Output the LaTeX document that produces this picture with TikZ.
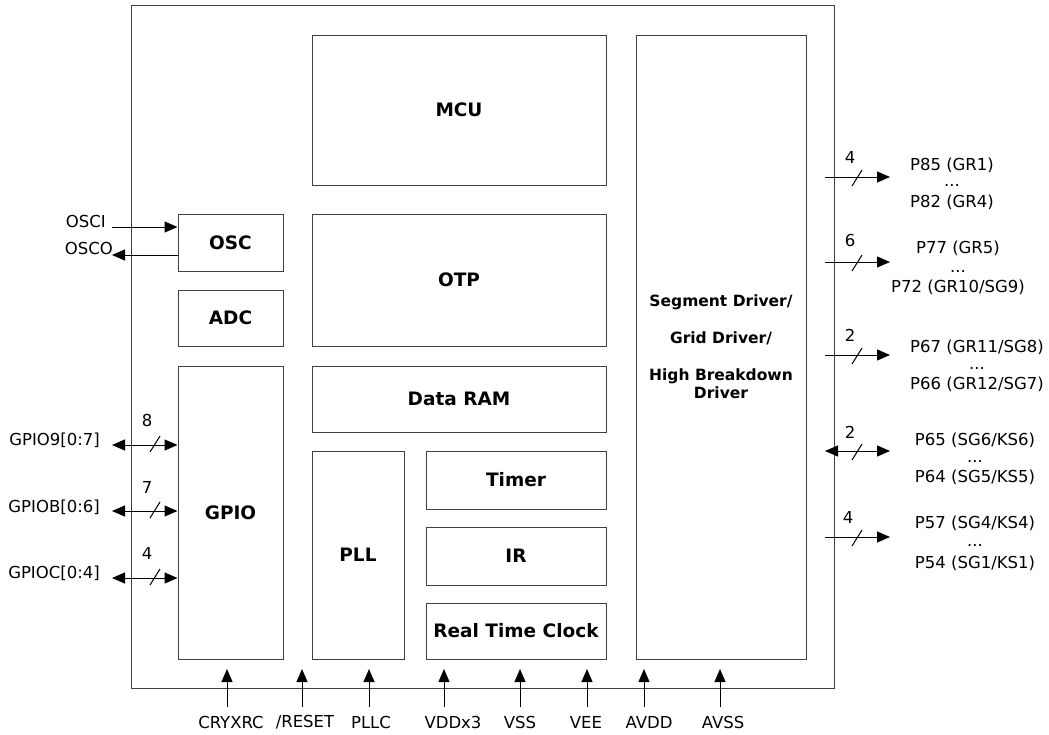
\documentclass[tikz,border=0pt]{standalone}
\usepackage{fontspec}
\setmainfont{DejaVu Sans}
\usetikzlibrary{arrows.meta}
\begin{document}
\begin{tikzpicture}[x=1pt,y=-1pt,
  blk/.style={draw=black!75, line width=1pt, inner sep=0pt, align=center,
    font=\bfseries\fontsize{18.5}{22}\selectfont},
  lbl/.style={inner sep=0pt, font=\fontsize{16.5}{19}\selectfont},
  sig/.style={draw=black, line width=1pt, -{Triangle[length=13pt,width=11pt]}},
  bisig/.style={draw=black, line width=1pt,
    {Triangle[length=13pt,width=11pt]}-{Triangle[length=13pt,width=11pt]}},
  bus/.style={draw=black, line width=1pt}]
\useasboundingbox (0,0) rectangle (1049,734);
% chip outline and blocks
\node[blk, minimum width=703pt, minimum height=682.5pt] (chip) at (482.5,346.75) {};
\node[blk, minimum width=294pt, minimum height=150pt] (mcu) at (459,110) {MCU};
\node[blk, minimum width=294pt, minimum height=132pt] (otp) at (459,280) {OTP};
\node[blk, minimum width=294pt, minimum height=66pt] (ram) at (459,399) {Data RAM};
\node[blk, minimum width=92pt, minimum height=208pt] (pll) at (358,555) {PLL};
\node[blk, minimum width=180pt, minimum height=58pt] (timer) at (516,480) {Timer};
\node[blk, minimum width=180pt, minimum height=58pt] (ir) at (516,556) {IR};
\node[blk, minimum width=180pt, minimum height=56pt] (rtc) at (516,631) {Real Time Clock};
\node[blk, minimum width=105pt, minimum height=57pt] (osc) at (230.5,242.5) {OSC};
\node[blk, minimum width=105pt, minimum height=56pt] (adc) at (230.5,318) {ADC};
\node[blk, minimum width=105pt, minimum height=293pt] (gpio) at (230.5,512.5) {GPIO};
\node[blk, minimum width=170pt, minimum height=624pt,
  font=\bfseries\fontsize{15.5}{18}\selectfont] (seg) at (721,347)
  {Segment Driver/\\[19pt]Grid Driver/\\[19pt]High Breakdown\\Driver};
% oscillator
\coordinate (osciL) at (112,227);
\coordinate (oscoL) at (112,255);
\draw[sig] (osciL) -- (osciL -| osc.west);
\draw[sig] (oscoL -| osc.west) -- (oscoL);
\node[lbl, anchor=east] (tosci) at (106,221) {OSCI};
\node[lbl, anchor=east] (tosco) at (113,248) {OSCO};
% GPIO buses
\coordinate (g9) at (112,445);
\coordinate (gb) at (112,511);
\coordinate (gc) at (112,578);
\draw[bisig] (g9) -- (g9 -| gpio.west);
\draw[bisig] (gb) -- (gb -| gpio.west);
\draw[bisig] (gc) -- (gc -| gpio.west);
\draw[bus] (150,452) -- (160,436);
\draw[bus] (150,518) -- (160,502);
\draw[bus] (150,585) -- (160,569);
\node[lbl] (n8) at (147,420) {8};
\node[lbl] (n7) at (147,487) {7};
\node[lbl] (n4a) at (147,553) {4};
\node[lbl, anchor=east] (tg9) at (100,440) {GPIO9[0:7]};
\node[lbl, anchor=east] (tgb) at (100,507) {GPIOB[0:6]};
\node[lbl, anchor=east] (tgc) at (100,573) {GPIOC[0:4]};
% right side outputs
\coordinate (r1a) at (825,177); \coordinate (r1b) at (890,177);
\coordinate (r2a) at (825,262); \coordinate (r2b) at (890,262);
\coordinate (r3a) at (825,355); \coordinate (r3b) at (890,355);
\coordinate (r4a) at (825,451); \coordinate (r4b) at (890,451);
\coordinate (r5a) at (825,537); \coordinate (r5b) at (890,537);
\draw[sig] (r1a) -- (r1b);
\draw[sig] (r2a) -- (r2b);
\draw[sig] (r3a) -- (r3b);
\draw[bisig] (r4a) -- (r4b);
\draw[sig] (r5a) -- (r5b);
\draw[bus] (852,186) -- (862,170);
\draw[bus] (852,271) -- (862,255);
\draw[bus] (852,364) -- (862,348);
\draw[bus] (852,460) -- (862,444);
\draw[bus] (852,546) -- (862,530);
\node[lbl] (m1) at (850,157) {4};
\node[lbl] (m2) at (850,240) {6};
\node[lbl] (m3) at (850,335) {2};
\node[lbl] (m4) at (850,432) {2};
\node[lbl] (m5) at (848,517) {4};
\node[lbl] (p85) at (952,165) {P85 (GR1)};
\node[lbl] (d1) at (952,185) {...};
\node[lbl] (p82) at (952,202) {P82 (GR4)};
\node[lbl] (p77) at (958,248) {P77 (GR5)};
\node[lbl] (d2) at (958,271) {...};
\node[lbl] (p72) at (958,287) {P72 (GR10/SG9)};
\node[lbl] (p67) at (977,347) {P67 (GR11/SG8)};
\node[lbl] (d3) at (977,368) {...};
\node[lbl] (p66) at (977,384) {P66 (GR12/SG7)};
\node[lbl] (p65) at (975,440) {P65 (SG6/KS6)};
\node[lbl] (d4) at (975,461) {...};
\node[lbl] (p64) at (975,477) {P64 (SG5/KS5)};
\node[lbl] (p57) at (975,523) {P57 (SG4/KS4)};
\node[lbl] (d5) at (975,545) {...};
\node[lbl] (p54) at (975,563) {P54 (SG1/KS1)};
% bottom pins
\foreach \x/\lx/\t/\n in {227/231/CRYXRC/b1, 302/305/{/RESET}/b2, 369/371/PLLC/b3,
    444/453/VDDx3/b4, 520/520/VSS/b5, 587/586/VEE/b6, 644/649/AVDD/b7, 720/723/AVSS/b8}{
  \coordinate (\n) at (\x,707);
  \coordinate (\n t) at (\x,669);
  \draw[sig] (\n) -- (\n t);
  \node[lbl] (\n l) at (\lx,722) {\t};
}
\end{tikzpicture}
\end{document}
